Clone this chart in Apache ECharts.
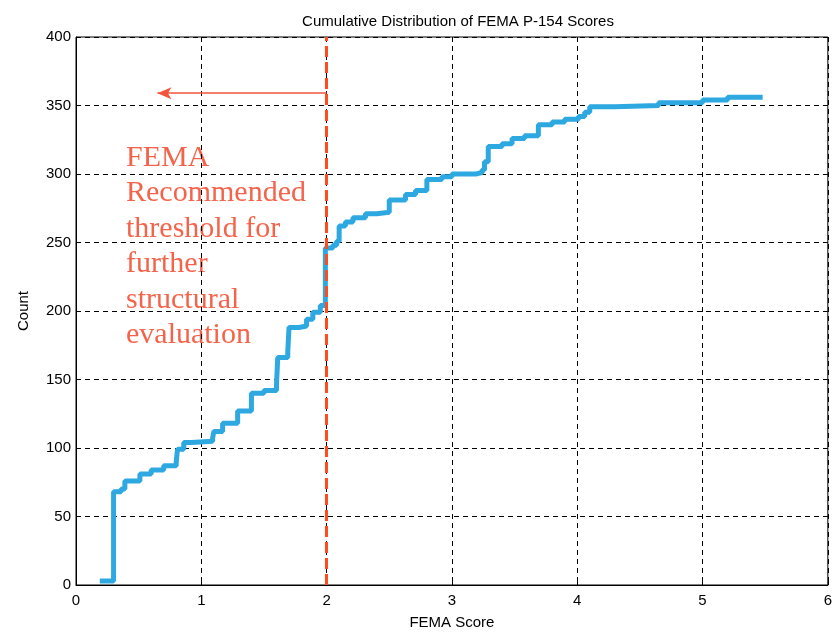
<!DOCTYPE html>
<html>
<head>
<meta charset="utf-8">
<script src="https://cdn.jsdelivr.net/npm/echarts@6/dist/echarts.min.js"></script>
<style>
  html, body { margin: 0; padding: 0; background: #fff; }
  #chart { width: 835px; height: 635px; }
</style>
</head>
<body>
<div id="chart"></div>
<script>
// score where the count steps up, and the count after the step
const scores = [0.19, 0.30, 0.36, 0.39, 0.51, 0.60, 0.70, 0.80, 0.81, 0.86, 0.92, 1.09, 1.10, 1.17,
  1.29, 1.40, 1.50, 1.60, 1.61, 1.69, 1.70, 1.78, 1.84, 1.89, 1.95, 1.99, 2.05, 2.08, 2.10, 2.15,
  2.21, 2.31, 2.40, 2.50, 2.63, 2.71, 2.80, 2.92, 3.00, 3.19, 3.24, 3.26, 3.29, 3.40, 3.48, 3.58,
  3.69, 3.80, 3.90, 4.01, 4.06, 4.10, 4.30, 4.65, 5.00, 5.20, 5.48]
const counts = [3, 68, 70, 76, 81, 84, 87, 90, 99, 104, 105, 107, 112, 118,
  127, 140, 142, 146, 166, 170, 188, 189, 194, 199, 204, 246, 248, 251, 262, 265,
  268, 271, 272, 281, 285, 288, 296, 298, 300, 301, 303, 309, 320, 322, 326, 328,
  336, 338, 340, 342, 345, 349, 350, 352, 354, 356, 356]

const threshold = 2
const arrowY = 359
const arrowTo = 0.65
const noteLines = ['FEMA', 'Recommended', 'threshold for', 'further', 'structural', 'evaluation']

const myChart = echarts.init(document.getElementById('chart'))

const axisFont = { fontFamily: 'Liberation Sans', fontSize: 15, color: '#000' }

myChart.setOption({
  animation: false,
  title: {
    text: 'Cumulative Distribution of FEMA P-154 Scores',
    left: 453,
    top: 9,
    textAlign: 'center',
    textStyle: { fontFamily: 'Liberation Sans', fontSize: 15, fontWeight: 'normal', color: '#000' },
  },
  grid: {
    left: 76,
    right: 5,
    top: 37,
    bottom: 48,
    show: true,
    borderColor: '#000',
    borderWidth: 1,
  },
  xAxis: {
    type: 'value',
    min: 0,
    max: 6,
    interval: 1,
    name: 'FEMA Score',
    nameLocation: 'middle',
    nameGap: 30,
    nameTextStyle: axisFont,
    axisLine: { onZero: false, lineStyle: { color: '#000' } },
    axisTick: { inside: true, length: 5, lineStyle: { color: '#000' } },
    axisLabel: { ...axisFont, margin: 8 },
    splitLine: { lineStyle: { color: '#000', type: [5, 4], width: 1 } },
  },
  yAxis: {
    type: 'value',
    min: 0,
    max: 400,
    interval: 50,
    name: 'Count',
    nameLocation: 'middle',
    nameGap: 45,
    nameTextStyle: axisFont,
    axisLine: { show: true, onZero: false, lineStyle: { color: '#000' } },
    axisTick: { show: true, inside: true, length: 5, lineStyle: { color: '#000' } },
    axisLabel: { ...axisFont, margin: 5 },
    splitLine: { lineStyle: { color: '#000', type: [5, 4], width: 1 } },
  },
  series: [
    {
      type: 'line',
      step: 'end',
      showSymbol: false,
      data: scores.map((s, i) => [s, counts[i]]),
      lineStyle: { color: '#2ea8e0', width: 5 },
      z: 3,
    },
    {
      type: 'line',
      showSymbol: false,
      data: [],
      markLine: {
        silent: true,
        animation: false,
        label: { show: false },
        data: [
          [
            { coord: [threshold, 0], symbol: 'none' },
            { coord: [threshold, 400], symbol: 'none', lineStyle: { color: '#ff4d22', width: 3, type: [11, 5] } },
          ],
          [
            { coord: [threshold, arrowY], symbol: 'none' },
            { coord: [arrowTo, arrowY], symbol: 'arrow', symbolSize: [9, 14], lineStyle: { color: '#f2553a', width: 1.5, type: 'solid' } },
          ],
        ],
      },
      z: 4,
    },
  ],
  graphic: [
    {
      type: 'text',
      left: 126,
      top: 140,
      style: {
        text: noteLines.join('\n'),
        font: '30px "Liberation Serif"',
        lineHeight: 35.5,
        fill: '#f4644b',
      },
    },
  ],
})
</script>
</body>
</html>
